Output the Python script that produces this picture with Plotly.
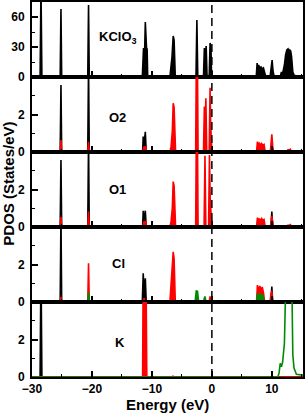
import plotly.graph_objects as go
from plotly.subplots import make_subplots

# ---------------- data ----------------
# KClO3 total DOS
TOT_E = [-30.0, -28.65, -28.5, -28.35, -25.3, -25.17, -25.05, -20.7, -20.57, -20.45,
         -11.6, -11.5, -11.4, -11.3, -11.2, -11.1, -11.0, -10.9, -10.8, -10.7,
         -7.0, -6.8, -6.65, -6.45, -6.3, -6.1,
         -2.65, -2.5, -2.35,
         -1.4, -1.25, -1.1, -0.95, -0.8,
         -0.45, -0.3, -0.15, -0.05,
         7.4, 7.55, 7.65, 7.8, 8.0, 8.2, 8.4, 8.6, 8.8, 9.0,
         9.7, 9.9, 10.05, 10.2, 10.4,
         11.4, 11.6, 11.75, 11.9, 12.1, 12.3, 12.5, 12.7, 12.85, 13.0, 13.15, 13.3,
         13.5, 13.7, 14.0, 14.5, 15.2]
TOT_Y = [0, 0, 90, 0, 0, 68, 0, 0, 72, 0,
         0, 28, 29, 27, 29, 55, 30, 29, 28, 0,
         0, 12, 20, 41, 37, 0,
         0, 57, 0,
         0, 29, 12, 31, 0,
         0, 34, 30, 0,
         0, 14, 8, 12, 9, 10, 8, 9, 5, 0,
         0, 10, 17, 6, 0,
         0, 5, 2, 6, 12, 22, 27, 28, 25, 27, 26,
         20, 5, 2, 1, 1]

# O2
O2_S_E = [-30.0, -25.3, -25.17, -25.05, -20.7, -20.57, -20.45,
          -11.55, -11.45, -11.35, -11.25, -11.1, -10.95,
          -6.75, -6.6, -6.45, 9.85, 10.0, 10.15, 15.2]
O2_S_Y = [0, 0, 3.57, 0, 0, 4.6, 0,
          0, 0.82, 0.3, 0.6, 1.08, 0,
          0, 0.3, 0, 0, 0.5, 0, 0]
O2_P_E = [-30.0, -25.3, -25.17, -25.05, -20.7, -20.57, -20.45,
          -11.5, -11.35, -11.2, -11.05, -10.9,
          -7.0, -6.8, -6.6, -6.45, -6.3, -6.15, -6.05,
          -2.7, -2.6, -2.5, -2.4, -2.3,
          -1.4, -1.25, -1.15, -1.0, -0.85,
          -0.45, -0.3, -0.2, -0.1, 0.0,
          7.45, 7.6, 7.75, 7.9, 8.1, 8.3, 8.5, 8.7, 8.85, 9.0,
          9.75, 9.9, 10.0, 10.15, 10.3,
          12.5, 12.7, 12.9, 13.1, 13.3, 15.2]
O2_P_Y = [0, 0, 0.64, 0, 0, 0.55, 0,
          0, 0.28, 0.2, 0.3, 0,
          0, 0.3, 1.1, 2.6, 2.4, 0.5, 0,
          0, 4.6, 2.0, 4.6, 0,
          0, 2.42, 1.0, 2.86, 0,
          0, 3.43, 1.5, 0.8, 0,
          0, 0.55, 0.35, 0.5, 0.35, 0.45, 0.35, 0.4, 0.1, 0,
          0, 0.4, 0.94, 0.3, 0,
          0, 0.12, 0.1, 0.15, 0, 0]

# O1
O1_S_E = [-30.0, -25.3, -25.17, -25.05, -20.7, -20.57, -20.45,
          -11.55, -11.45, -11.35, -11.25, -11.1, -10.95,
          -6.75, -6.6, -6.45, 9.85, 10.0, 10.15, 15.2]
O1_S_Y = [0, 0, 3.57, 0, 0, 4.6, 0,
          0, 0.87, 0.3, 0.5, 0.87, 0,
          0, 0.25, 0, 0, 0.82, 0, 0]
O1_P_E = [-30.0, -25.3, -25.17, -25.05, -20.7, -20.57, -20.45,
          -11.5, -11.35, -11.2, -11.05, -10.9,
          -7.0, -6.8, -6.6, -6.45, -6.3, -6.15, -6.05,
          -2.7, -2.6, -2.5, -2.4, -2.3,
          -1.3, -1.15, -1.0,
          -0.55, -0.4, -0.28, -0.15, 0.0,
          7.45, 7.6, 7.75, 7.9, 8.1, 8.3, 8.5, 8.7, 8.85, 9.0,
          9.75, 9.9, 10.0, 10.15, 10.3,
          12.5, 12.7, 12.9, 13.1, 13.3, 15.2]
O1_P_Y = [0, 0, 0.55, 0, 0, 0.82, 0,
          0, 0.3, 0.2, 0.3, 0,
          0, 0.3, 1.0, 2.42, 2.2, 0.5, 0,
          0, 4.6, 2.0, 4.6, 0,
          0, 3.8, 0,
          0, 3.84, 1.5, 0.8, 0,
          0, 0.5, 0.35, 0.45, 0.35, 0.45, 0.35, 0.4, 0.1, 0,
          0, 0.3, 0.6, 0.25, 0,
          0, 0.1, 0.08, 0.12, 0, 0]

# Cl
CL_S_E = [-30.0, -25.3, -25.17, -25.05,
          -11.6, -11.45, -11.3, -11.1, -10.95,
          9.85, 10.0, 10.15, 15.2]
CL_S_Y = [0, 0, 4.6, 0,
          0, 1.53, 0.5, 1.26, 0,
          0, 0.82, 0, 0]
CL_P_E = [-30.0, -25.3, -25.17, -25.05, -20.7, -20.57, -20.45,
          -11.45, -11.3, -11.15,
          -7.0, -6.8, -6.6, -6.45, -6.3, -6.1,
          -0.45, -0.3, -0.15,
          7.45, 7.6, 7.8, 8.0, 8.2, 8.4, 8.6, 8.8,
          9.7, 9.85, 10.0, 10.15, 15.2]
CL_P_Y = [0, 0, 0.28, 0, 0, 2.06, 0,
          0, 0.2, 0,
          0, 0.8, 1.6, 2.68, 2.3, 0,
          0, 0.3, 0,
          0, 0.9, 0.6, 0.85, 0.6, 0.8, 0.5, 0,
          0, 0.4, 0.6, 0, 0]
CL_D_E = [-30.0, -20.7, -20.57, -20.45,
          -2.8, -2.6, -2.5, -2.4, -2.2,
          -1.45, -1.3, -1.15, -1.0,
          7.5, 7.6, 7.8, 8.0, 8.2, 8.4, 8.6, 8.8,
          12.5, 12.8, 13.1, 15.2]
CL_D_Y = [0, 0, 0.55, 0,
          0, 0.62, 0.55, 0.6, 0,
          0, 0.25, 0.3, 0,
          0, 0.45, 0.35, 0.45, 0.3, 0.4, 0.2, 0,
          0, 0.05, 0, 0]

# K
K_S_E = [-30.0, -28.65, -28.5, -28.35, 15.2]
K_S_Y = [0, 0, 6, 0, 0]
K_P_E = [-30.0, -11.55, -11.45, -11.35, -11.25, -11.15, -11.05, -10.95, -10.85,
         -6.7, -6.5, -6.3, -2.7, -2.5, -2.3, 15.2]
K_P_Y = [0, 0, 6, 2.5, 6, 3.0, 6, 4.0, 0,
         0, 0.04, 0, 0, 0.04, 0, 0]
K_D_E = [-30.0, 11.0, 11.2, 11.4, 11.6, 11.8, 12.1, 12.4, 13.3, 13.5, 13.7, 14.1, 15.2]
K_D_Y = [0, 0, 0.2, 0.73, 0.55, 0.8, 1.8, 6, 6, 1.2, 0.48, 0.15, 0.1]

PANEL_LABELS = ["KClO<sub>3</sub>", "O2", "O1", "Cl", "K"]
X_TICKS = [-30, -20, -10, 0, 10]
TOP_TICKS = [0, 30, 60]
SUB_TICKS = [0, 2]

BLACK, RED, GREEN = "#000000", "#ff0000", "#008c00"

# ---------------- figure ----------------
fig = make_subplots(rows=5, cols=1, shared_xaxes=True, vertical_spacing=0)

panels = [
    [(TOT_E, TOT_Y, BLACK, True)],
    [(O2_S_E, O2_S_Y, BLACK, True), (O2_P_E, O2_P_Y, RED, True)],
    [(O1_S_E, O1_S_Y, BLACK, True), (O1_P_E, O1_P_Y, RED, True)],
    [(CL_S_E, CL_S_Y, BLACK, True), (CL_P_E, CL_P_Y, RED, True), (CL_D_E, CL_D_Y, GREEN, True)],
    [(K_S_E, K_S_Y, BLACK, True), (K_P_E, K_P_Y, RED, True), (K_D_E, K_D_Y, GREEN, False)],
]
for r, curves in enumerate(panels, start=1):
    for xs, ys, col, filled in curves:
        fig.add_trace(go.Scatter(x=xs, y=ys, mode="lines",
                                 line=dict(color=col, width=1.6),
                                 fill="tozeroy" if filled else None,
                                 fillcolor=col,
                                 showlegend=False, hoverinfo="skip"),
                      row=r, col=1)

font = dict(family="Liberation Sans, Arial, sans-serif", size=12, color="black", weight="bold")

for r in range(1, 6):
    top = 1 - (r - 1) / 5
    bot = 1 - r / 5
    fig.update_yaxes(row=r, col=1, domain=[bot, top], automargin=False,
                     range=[0, 75] if r == 1 else [0, 4],
                     tickvals=TOP_TICKS if r == 1 else SUB_TICKS,
                     ticks="inside", ticklen=6, tickwidth=1.5, tickcolor="black",
                     minor=dict(tickvals=[15, 45] if r == 1 else [1, 3],
                                ticks="inside", ticklen=3, tickwidth=1.2, tickcolor="black"),
                     showline=True, linewidth=2, linecolor="black", mirror=True,
                     showgrid=False, zeroline=False, tickfont=font, ticklabelstandoff=3)
    fig.update_xaxes(row=r, col=1, range=[-30, 15.2], automargin=False,
                     tickvals=X_TICKS,
                     ticks="inside", ticklen=6, tickwidth=1.5, tickcolor="black",
                     minor=dict(dtick=5, tick0=0, ticks="inside", ticklen=3,
                                tickwidth=1.2, tickcolor="black"),
                     showline=True, linewidth=2, linecolor="black", mirror=True,
                     showgrid=False, zeroline=False, tickfont=font,
                     showticklabels=(r == 5), ticklabelstandoff=0)

fig.add_shape(type="line", xref="x5", yref="paper", x0=0, x1=0, y0=0, y1=1,
              line=dict(color="black", width=1.5, dash="8px,5px"))

label_pos = [(0.317, 0.904), (0.314, 0.691), (0.316, 0.501), (0.321, 0.304), (0.325, 0.093)]
for txt, (px, py) in zip(PANEL_LABELS, label_pos):
    fig.add_annotation(text=txt, xref="paper", yref="paper", x=px, y=py,
                       xanchor="center", yanchor="middle",
                       showarrow=False, font=dict(family="Liberation Sans, Arial", size=13,
                                                  color="black", weight="bold"))

fig.add_annotation(text="PDOS (States/eV)", xref="paper", yref="paper",
                   x=-0.088, y=0.516, textangle=-90, showarrow=False,
                   xanchor="center", yanchor="middle",
                   font=dict(family="Liberation Sans, Arial", size=15, color="black", weight="bold"))
fig.add_annotation(text="Energy (eV)", xref="paper", yref="paper",
                   x=0.5, y=-0.072, showarrow=False,
                   xanchor="center", yanchor="middle",
                   font=dict(family="Liberation Sans, Arial", size=15, color="black", weight="bold"))

fig.update_layout(width=305, height=415, margin=dict(l=32, r=2, t=2, b=38),
                  plot_bgcolor="white", paper_bgcolor="white")

fig.write_html("out.html", config={"displayModeBar": False},
               post_script="document.body.style.margin='0';document.body.style.overflow='hidden';")
